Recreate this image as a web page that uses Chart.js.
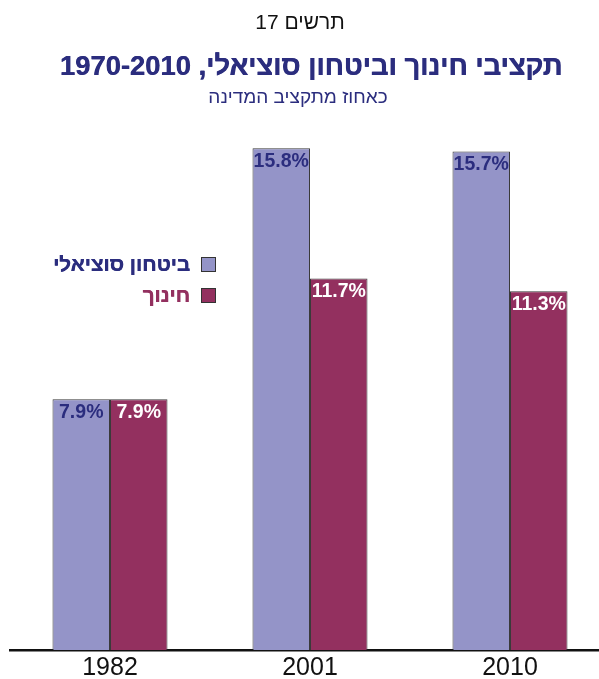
<!DOCTYPE html>
<html lang="he">
<head>
<meta charset="utf-8">
<script src="https://cdn.jsdelivr.net/npm/chart.js@4.4.1/dist/chart.umd.min.js"></script>
<style>
    html, body { margin: 0; padding: 0; background: #fff; overflow: hidden; }
    #wrap { width: 599px; height: 679px; overflow: hidden; }
</style>
</head>
<body>
<div id="wrap"><canvas id="chart" width="620" height="679"></canvas></div>
<script>
// Data
const years = ['1982', '2001', '2010'];
const socialSecurity = [7.9, 15.8, 15.7];
const education = [7.9, 11.7, 11.3];
const seriesLabels = ['ביטחון סוציאלי', 'חינוך'];

const chartNumber = 'תרשים 17';
const chartTitle = 'תקציבי חינוך וביטחון סוציאלי, 1970-2010';
const chartSubtitle = 'כאחוז מתקציב המדינה';

const lavender = '#9494c8';
const maroon = '#93305f';
const navy = '#2b2d7e';
const sans = '"Liberation Sans", Arial, sans-serif';

// set a bold font so the text is about `width` px wide
function fitFont(ctx, text, family, width) {
    ctx.font = 'bold 20px ' + family;
    const size = 20 * width / ctx.measureText(text).width;
    ctx.font = 'bold ' + size.toFixed(1) + 'px ' + family;
}

// Titles and legend drawn on canvas
const headerPlugin = {
    id: 'header',
    afterDraw(chart) {
        const ctx = chart.ctx;
        ctx.save();
        ctx.direction = 'rtl';
        ctx.textAlign = 'center';
        ctx.textBaseline = 'middle';

        ctx.fillStyle = '#111';
        ctx.font = '21px ' + sans;
        ctx.fillText(chartNumber, 300, 23);

        ctx.fillStyle = navy;
        fitFont(ctx, chartTitle, sans, 502);
        ctx.fillText(chartTitle, 311, 67);
        ctx.fillText(chartTitle, 311.6, 67);

        ctx.font = '19px ' + sans;
        ctx.fillText(chartSubtitle, 298, 98);

        // legend
        const rows = [265, 296];
        chart.data.datasets.forEach((ds, i) => {
            const y = rows[i];
            ctx.fillStyle = ds.backgroundColor;
            ctx.strokeStyle = '#333';
            ctx.lineWidth = 1;
            ctx.fillRect(201.5, y - 7.5, 14, 14);
            ctx.strokeRect(201.5, y - 7.5, 14, 14);
            ctx.textAlign = 'right';
            ctx.fillStyle = i === 0 ? navy : maroon;
            fitFont(ctx, seriesLabels[0], sans, 137);
            ctx.fillText(ds.label, 190, y);
            ctx.fillText(ds.label, 190.5, y);
        });
        ctx.restore();
    }
};

// Value labels inside the bar tops
const valueLabels = {
    id: 'valueLabels',
    afterDatasetsDraw(chart) {
        const ctx = chart.ctx;
        ctx.save();
        ctx.textAlign = 'center';
        ctx.textBaseline = 'middle';
        ctx.font = 'bold 19.5px ' + sans;
        chart.data.datasets.forEach((ds, i) => {
            const meta = chart.getDatasetMeta(i);
            meta.data.forEach((bar, j) => {
                ctx.fillStyle = i === 0 ? navy : '#ffffff';
                ctx.fillText(ds.data[j].toFixed(1) + '%', bar.x, bar.y + 13);
            });
        });
        ctx.restore();
    }
};

new Chart(document.getElementById('chart'), {
    type: 'bar',
    data: {
        labels: years,
        datasets: [
            {
                label: seriesLabels[0],
                data: socialSecurity,
                backgroundColor: lavender,
                borderColor: '#3a3a3a',
                borderWidth: 1
            },
            {
                label: seriesLabels[1],
                data: education,
                backgroundColor: maroon,
                borderColor: '#3a3a3a',
                borderWidth: 1
            }
        ]
    },
    options: {
        responsive: false,
        animation: false,
        layout: {
            padding: { top: 142, left: 10, right: 10, bottom: 0 }
        },
        plugins: {
            legend: { display: false },
            tooltip: { enabled: false },
            title: { display: false }
        },
        datasets: {
            bar: {
                categoryPercentage: 0.575,
                barPercentage: 1
            }
        },
        scales: {
            x: {
                grid: { display: false, drawTicks: false },
                border: { display: true, color: '#111', width: 2.5 },
                ticks: {
                    color: '#111',
                    padding: 3,
                    font: { family: sans, size: 25 }
                },
                afterFit(scale) { scale.height = 29; }
            },
            y: {
                display: false,
                min: 0,
                max: 16
            }
        }
    },
    plugins: [headerPlugin, valueLabels]
});
</script>
</body>
</html>
